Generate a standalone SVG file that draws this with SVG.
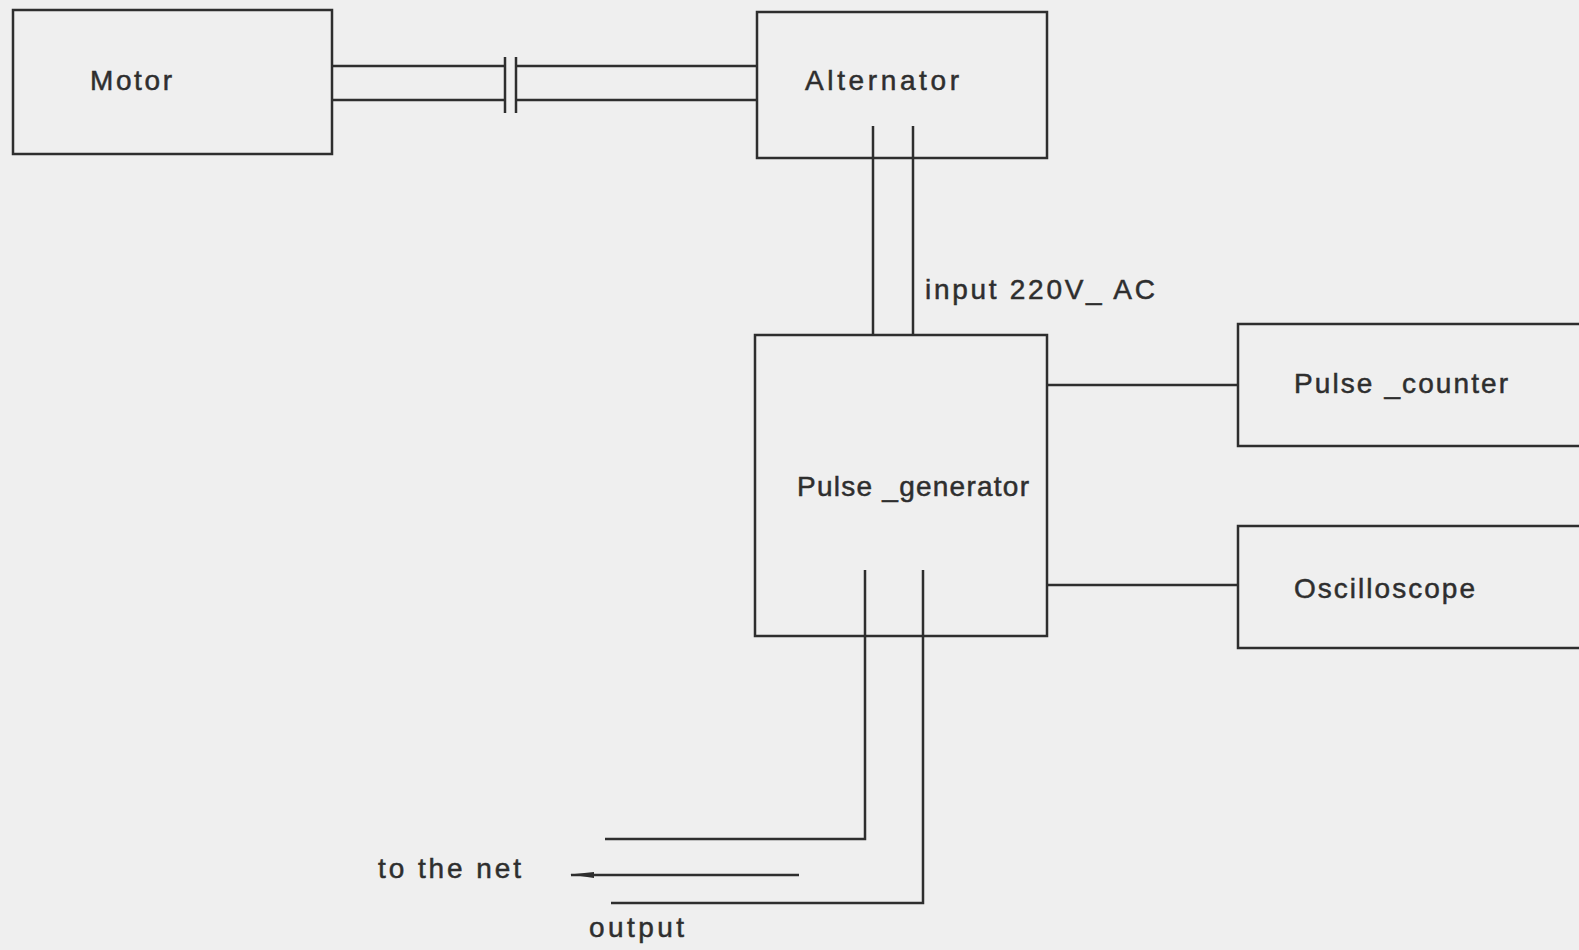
<svg xmlns="http://www.w3.org/2000/svg" width="1579" height="950" viewBox="0 0 1579 950">
<defs>
<style>
.box{fill:none;stroke:#2e2e2e;stroke-width:2.5}
.ln{fill:none;stroke:#2e2e2e;stroke-width:2.5}
.t{font-family:"Liberation Sans",Arial,sans-serif;font-size:28px;fill:#2e2e2e;stroke:#2e2e2e;stroke-width:0.5}
</style>
<marker id="arr" viewBox="0 0 24 8" refX="23" refY="4" markerWidth="24" markerHeight="8" markerUnits="userSpaceOnUse" orient="auto">
<path d="M24,4.5 L0,1 L0,7 Z" fill="#2e2e2e"/>
</marker>
</defs>
<rect width="1579" height="950" fill="#efefef"/>
<g id="motor">
<rect class="box" x="13" y="10" width="319" height="144"/>
<text class="t" x="90" y="90" textLength="82" lengthAdjust="spacing">Motor</text>
</g>
<g id="alternator">
<rect class="box" x="757" y="12" width="290" height="146"/>
<text class="t" x="805" y="90" textLength="154" lengthAdjust="spacing">Alternator</text>
</g>
<g id="pulse-generator">
<rect class="box" x="755" y="335" width="292" height="301"/>
<text class="t" x="797" y="496" textLength="232" lengthAdjust="spacing">Pulse _generator</text>
</g>
<g id="pulse-counter">
<rect class="box" x="1238" y="324" width="345" height="122"/>
<text class="t" x="1294" y="393" textLength="214" lengthAdjust="spacing">Pulse _counter</text>
</g>
<g id="oscilloscope">
<rect class="box" x="1238" y="526" width="345" height="122"/>
<text class="t" x="1294" y="598" textLength="181" lengthAdjust="spacing">Oscilloscope</text>
</g>
<g id="connectors">
<line class="ln" x1="332" y1="66" x2="505" y2="66"/>
<line class="ln" x1="332" y1="100" x2="505" y2="100"/>
<line class="ln" x1="516" y1="66" x2="757" y2="66"/>
<line class="ln" x1="516" y1="100" x2="757" y2="100"/>
<line class="ln" x1="505" y1="57" x2="505" y2="113"/>
<line class="ln" x1="516" y1="57" x2="516" y2="113"/>
<line class="ln" x1="873" y1="126" x2="873" y2="335"/>
<line class="ln" x1="913" y1="126" x2="913" y2="335"/>
<line class="ln" x1="1047" y1="385" x2="1238" y2="385"/>
<line class="ln" x1="1047" y1="585" x2="1238" y2="585"/>
<polyline class="ln" points="865,570 865,839 605,839"/>
<polyline class="ln" points="923,570 923,903 611,903"/>
<line class="ln" x1="799" y1="875" x2="571" y2="875" marker-end="url(#arr)"/>
</g>
<g id="labels">
<text class="t" x="925" y="299" textLength="230" lengthAdjust="spacing">input 220V_ AC</text>
<text class="t" x="378" y="878" textLength="143" lengthAdjust="spacing">to the net</text>
<text class="t" x="589" y="937" textLength="95" lengthAdjust="spacing">output</text>
</g>
</svg>
